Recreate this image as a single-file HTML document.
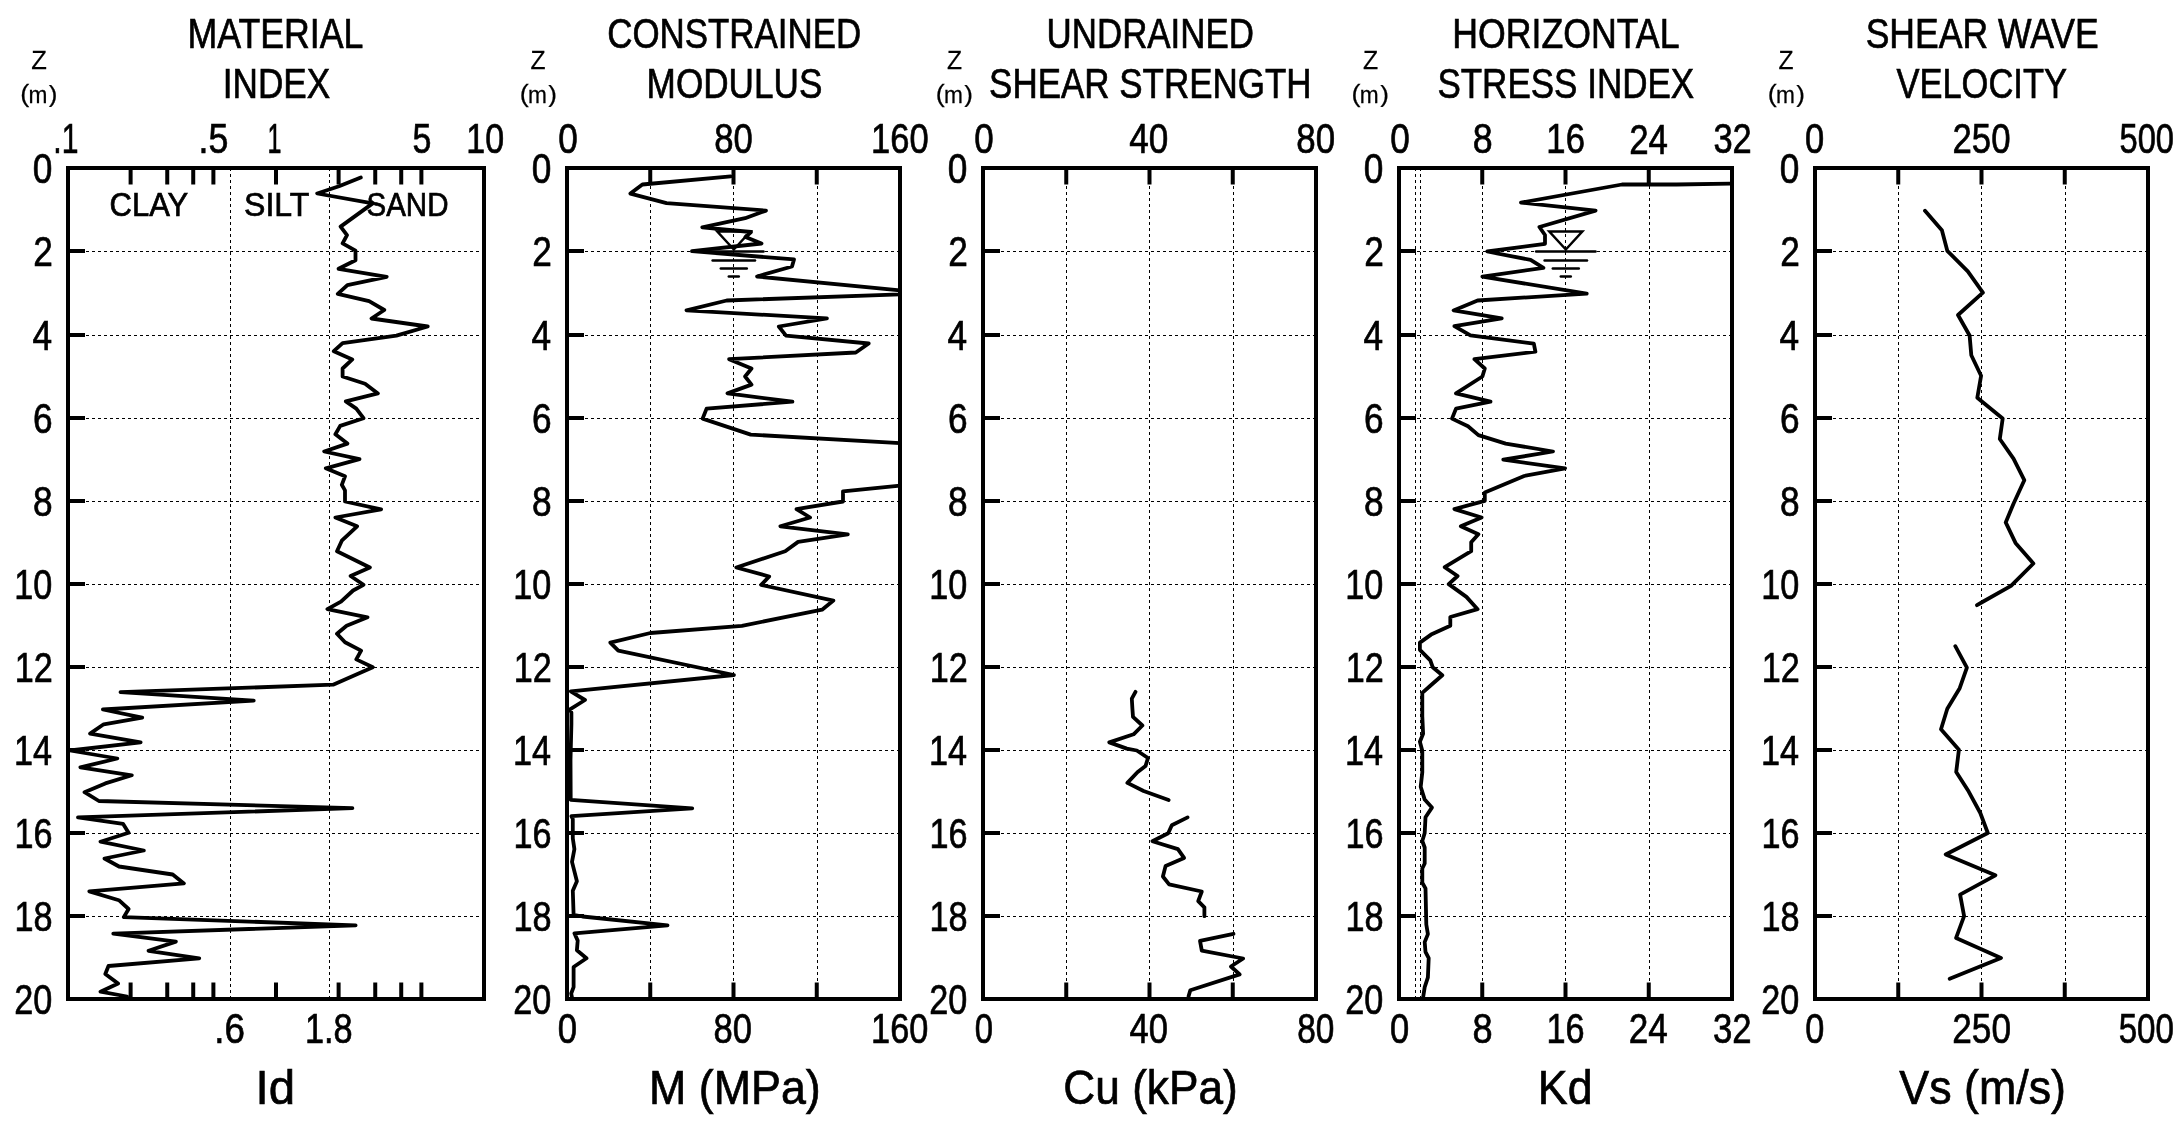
<!DOCTYPE html>
<html><head><meta charset="utf-8"><title>DMT profiles</title>
<style>
html,body{margin:0;padding:0;background:#fff;}
svg{display:block;will-change:transform;}
text{font-family:"Liberation Sans",Arial,sans-serif;fill:#000;stroke:#000;stroke-width:0.7px;}
</style></head><body>
<svg width="2178" height="1122" viewBox="0 0 2178 1122">
<rect width="2178" height="1122" fill="#fff"/>
<path d="M68.00 251.50L482.00 251.50 M68.00 335.50L482.00 335.50 M68.00 418.50L482.00 418.50 M68.00 501.50L482.00 501.50 M68.00 584.50L482.00 584.50 M68.00 667.50L482.00 667.50 M68.00 750.50L482.00 750.50 M68.00 833.50L482.00 833.50 M68.00 916.50L482.00 916.50 M230.50 168.00L230.50 997.00 M329.50 168.00L329.50 997.00 M567.00 251.50L898.00 251.50 M567.00 335.50L898.00 335.50 M567.00 418.50L898.00 418.50 M567.00 501.50L898.00 501.50 M567.00 584.50L898.00 584.50 M567.00 667.50L898.00 667.50 M567.00 750.50L898.00 750.50 M567.00 833.50L898.00 833.50 M567.00 916.50L898.00 916.50 M650.50 168.00L650.50 997.00 M733.50 168.00L733.50 997.00 M817.50 168.00L817.50 997.00 M983.00 251.50L1314.00 251.50 M983.00 335.50L1314.00 335.50 M983.00 418.50L1314.00 418.50 M983.00 501.50L1314.00 501.50 M983.00 584.50L1314.00 584.50 M983.00 667.50L1314.00 667.50 M983.00 750.50L1314.00 750.50 M983.00 833.50L1314.00 833.50 M983.00 916.50L1314.00 916.50 M1066.50 168.00L1066.50 997.00 M1149.50 168.00L1149.50 997.00 M1233.50 168.00L1233.50 997.00 M1399.00 251.50L1730.00 251.50 M1399.00 335.50L1730.00 335.50 M1399.00 418.50L1730.00 418.50 M1399.00 501.50L1730.00 501.50 M1399.00 584.50L1730.00 584.50 M1399.00 667.50L1730.00 667.50 M1399.00 750.50L1730.00 750.50 M1399.00 833.50L1730.00 833.50 M1399.00 916.50L1730.00 916.50 M1482.50 168.00L1482.50 997.00 M1565.50 168.00L1565.50 997.00 M1649.50 168.00L1649.50 997.00 M1415.50 168.00L1415.50 997.00 M1420.50 168.00L1420.50 997.00 M1815.00 251.50L2146.00 251.50 M1815.00 335.50L2146.00 335.50 M1815.00 418.50L2146.00 418.50 M1815.00 501.50L2146.00 501.50 M1815.00 584.50L2146.00 584.50 M1815.00 667.50L2146.00 667.50 M1815.00 750.50L2146.00 750.50 M1815.00 833.50L2146.00 833.50 M1815.00 916.50L2146.00 916.50 M1898.50 168.00L1898.50 997.00 M1981.50 168.00L1981.50 997.00 M2065.50 168.00L2065.50 997.00" stroke="#000" stroke-width="1" stroke-dasharray="3 3" fill="none"/>
<g stroke="#000" fill="none" stroke-width="4"><rect x="68" y="168.0" width="416" height="831.0"/><rect x="567" y="168.0" width="333" height="831.0"/><rect x="983" y="168.0" width="333" height="831.0"/><rect x="1399" y="168.0" width="333" height="831.0"/><rect x="1815" y="168.0" width="333" height="831.0"/></g>
<g stroke="#000" stroke-linecap="butt"><line x1="130.61" y1="168.00" x2="130.61" y2="184.50" stroke-width="4"/><line x1="130.61" y1="982.50" x2="130.61" y2="999.00" stroke-width="4"/><line x1="167.24" y1="168.00" x2="167.24" y2="184.50" stroke-width="4"/><line x1="167.24" y1="982.50" x2="167.24" y2="999.00" stroke-width="4"/><line x1="193.23" y1="168.00" x2="193.23" y2="184.50" stroke-width="4"/><line x1="193.23" y1="982.50" x2="193.23" y2="999.00" stroke-width="4"/><line x1="213.39" y1="168.00" x2="213.39" y2="184.50" stroke-width="4"/><line x1="213.39" y1="982.50" x2="213.39" y2="999.00" stroke-width="4"/><line x1="276.00" y1="168.00" x2="276.00" y2="184.50" stroke-width="4"/><line x1="276.00" y1="982.50" x2="276.00" y2="999.00" stroke-width="4"/><line x1="338.61" y1="168.00" x2="338.61" y2="184.50" stroke-width="4"/><line x1="338.61" y1="982.50" x2="338.61" y2="999.00" stroke-width="4"/><line x1="375.24" y1="168.00" x2="375.24" y2="184.50" stroke-width="4"/><line x1="375.24" y1="982.50" x2="375.24" y2="999.00" stroke-width="4"/><line x1="401.23" y1="168.00" x2="401.23" y2="184.50" stroke-width="4"/><line x1="401.23" y1="982.50" x2="401.23" y2="999.00" stroke-width="4"/><line x1="421.39" y1="168.00" x2="421.39" y2="184.50" stroke-width="4"/><line x1="421.39" y1="982.50" x2="421.39" y2="999.00" stroke-width="4"/><line x1="68.00" y1="251.00" x2="85.00" y2="251.00" stroke-width="4"/><line x1="68.00" y1="335.00" x2="85.00" y2="335.00" stroke-width="4"/><line x1="68.00" y1="418.00" x2="85.00" y2="418.00" stroke-width="4"/><line x1="68.00" y1="501.00" x2="85.00" y2="501.00" stroke-width="4"/><line x1="68.00" y1="584.00" x2="85.00" y2="584.00" stroke-width="4"/><line x1="68.00" y1="667.00" x2="85.00" y2="667.00" stroke-width="4"/><line x1="68.00" y1="750.00" x2="85.00" y2="750.00" stroke-width="4"/><line x1="68.00" y1="833.00" x2="85.00" y2="833.00" stroke-width="4"/><line x1="68.00" y1="916.00" x2="85.00" y2="916.00" stroke-width="4"/><line x1="650.25" y1="168.00" x2="650.25" y2="184.50" stroke-width="4"/><line x1="650.25" y1="982.50" x2="650.25" y2="999.00" stroke-width="4"/><line x1="733.50" y1="168.00" x2="733.50" y2="184.50" stroke-width="4"/><line x1="733.50" y1="982.50" x2="733.50" y2="999.00" stroke-width="4"/><line x1="816.75" y1="168.00" x2="816.75" y2="184.50" stroke-width="4"/><line x1="816.75" y1="982.50" x2="816.75" y2="999.00" stroke-width="4"/><line x1="567.00" y1="251.00" x2="584.00" y2="251.00" stroke-width="4"/><line x1="567.00" y1="335.00" x2="584.00" y2="335.00" stroke-width="4"/><line x1="567.00" y1="418.00" x2="584.00" y2="418.00" stroke-width="4"/><line x1="567.00" y1="501.00" x2="584.00" y2="501.00" stroke-width="4"/><line x1="567.00" y1="584.00" x2="584.00" y2="584.00" stroke-width="4"/><line x1="567.00" y1="667.00" x2="584.00" y2="667.00" stroke-width="4"/><line x1="567.00" y1="750.00" x2="584.00" y2="750.00" stroke-width="4"/><line x1="567.00" y1="833.00" x2="584.00" y2="833.00" stroke-width="4"/><line x1="567.00" y1="916.00" x2="584.00" y2="916.00" stroke-width="4"/><line x1="1066.25" y1="168.00" x2="1066.25" y2="184.50" stroke-width="4"/><line x1="1066.25" y1="982.50" x2="1066.25" y2="999.00" stroke-width="4"/><line x1="1149.50" y1="168.00" x2="1149.50" y2="184.50" stroke-width="4"/><line x1="1149.50" y1="982.50" x2="1149.50" y2="999.00" stroke-width="4"/><line x1="1232.75" y1="168.00" x2="1232.75" y2="184.50" stroke-width="4"/><line x1="1232.75" y1="982.50" x2="1232.75" y2="999.00" stroke-width="4"/><line x1="983.00" y1="251.00" x2="1000.00" y2="251.00" stroke-width="4"/><line x1="983.00" y1="335.00" x2="1000.00" y2="335.00" stroke-width="4"/><line x1="983.00" y1="418.00" x2="1000.00" y2="418.00" stroke-width="4"/><line x1="983.00" y1="501.00" x2="1000.00" y2="501.00" stroke-width="4"/><line x1="983.00" y1="584.00" x2="1000.00" y2="584.00" stroke-width="4"/><line x1="983.00" y1="667.00" x2="1000.00" y2="667.00" stroke-width="4"/><line x1="983.00" y1="750.00" x2="1000.00" y2="750.00" stroke-width="4"/><line x1="983.00" y1="833.00" x2="1000.00" y2="833.00" stroke-width="4"/><line x1="983.00" y1="916.00" x2="1000.00" y2="916.00" stroke-width="4"/><line x1="1482.25" y1="168.00" x2="1482.25" y2="184.50" stroke-width="4"/><line x1="1482.25" y1="982.50" x2="1482.25" y2="999.00" stroke-width="4"/><line x1="1565.50" y1="168.00" x2="1565.50" y2="184.50" stroke-width="4"/><line x1="1565.50" y1="982.50" x2="1565.50" y2="999.00" stroke-width="4"/><line x1="1648.75" y1="168.00" x2="1648.75" y2="184.50" stroke-width="4"/><line x1="1648.75" y1="982.50" x2="1648.75" y2="999.00" stroke-width="4"/><line x1="1399.00" y1="251.00" x2="1416.00" y2="251.00" stroke-width="4"/><line x1="1399.00" y1="335.00" x2="1416.00" y2="335.00" stroke-width="4"/><line x1="1399.00" y1="418.00" x2="1416.00" y2="418.00" stroke-width="4"/><line x1="1399.00" y1="501.00" x2="1416.00" y2="501.00" stroke-width="4"/><line x1="1399.00" y1="584.00" x2="1416.00" y2="584.00" stroke-width="4"/><line x1="1399.00" y1="667.00" x2="1416.00" y2="667.00" stroke-width="4"/><line x1="1399.00" y1="750.00" x2="1416.00" y2="750.00" stroke-width="4"/><line x1="1399.00" y1="833.00" x2="1416.00" y2="833.00" stroke-width="4"/><line x1="1399.00" y1="916.00" x2="1416.00" y2="916.00" stroke-width="4"/><line x1="1898.25" y1="168.00" x2="1898.25" y2="184.50" stroke-width="4"/><line x1="1898.25" y1="982.50" x2="1898.25" y2="999.00" stroke-width="4"/><line x1="1981.50" y1="168.00" x2="1981.50" y2="184.50" stroke-width="4"/><line x1="1981.50" y1="982.50" x2="1981.50" y2="999.00" stroke-width="4"/><line x1="2064.75" y1="168.00" x2="2064.75" y2="184.50" stroke-width="4"/><line x1="2064.75" y1="982.50" x2="2064.75" y2="999.00" stroke-width="4"/><line x1="1815.00" y1="251.00" x2="1832.00" y2="251.00" stroke-width="4"/><line x1="1815.00" y1="335.00" x2="1832.00" y2="335.00" stroke-width="4"/><line x1="1815.00" y1="418.00" x2="1832.00" y2="418.00" stroke-width="4"/><line x1="1815.00" y1="501.00" x2="1832.00" y2="501.00" stroke-width="4"/><line x1="1815.00" y1="584.00" x2="1832.00" y2="584.00" stroke-width="4"/><line x1="1815.00" y1="667.00" x2="1832.00" y2="667.00" stroke-width="4"/><line x1="1815.00" y1="750.00" x2="1832.00" y2="750.00" stroke-width="4"/><line x1="1815.00" y1="833.00" x2="1832.00" y2="833.00" stroke-width="4"/><line x1="1815.00" y1="916.00" x2="1832.00" y2="916.00" stroke-width="4"/></g>
<g stroke="#000" stroke-width="3.8" fill="none" stroke-linejoin="round" stroke-linecap="round"><polyline points="360.8,177.5 339.0,186.3 317.2,193.5 372.7,203.4 340.6,226.6 347.0,235.2 342.6,243.4 355.5,250.6 355.5,260.2 338.6,268.8 386.7,276.8 347.4,285.1 337.8,293.9 369.1,301.2 384.3,310.0 371.5,318.5 427.7,326.5 396.4,335.6 342.6,343.2 333.8,351.2 352.3,359.4 342.6,368.5 342.6,376.5 365.1,383.7 377.9,393.4 345.8,401.4 356.3,408.6 363.5,418.2 340.2,425.9 335.4,434.3 347.4,443.6 324.2,451.5 359.5,459.2 325.8,468.3 345.0,476.3 341.8,484.8 345.0,490.4 345.0,501.5 381.1,509.4 335.4,517.5 357.1,526.3 341.8,540.7 337.0,551.2 369.9,567.5 350.6,576.0 363.5,584.8 353.1,590.5 341.0,601.7 327.4,609.2 367.5,617.3 346.6,625.8 337.0,633.8 345.0,642.3 361.1,650.6 356.3,659.4 372.8,667.3 333.1,684.7 120.5,692.2 253.7,700.7 102.9,709.5 142.2,717.6 103.7,724.3 90.1,733.6 140.6,742.4 70.0,750.5 117.3,758.5 80.4,767.3 131.8,775.3 105.3,783.4 84.5,792.2 98.9,801.0 352.4,808.2 78.0,817.4 123.0,823.8 128.6,832.8 100.5,841.7 143.8,850.5 104.5,858.5 119.0,866.5 172.7,874.5 183.9,883.4 89.3,891.4 118.9,900.2 128.6,909.0 123.8,917.1 355.6,925.4 113.3,933.6 175.9,941.6 148.6,950.8 199.2,958.3 108.5,966.0 105.3,974.0 118.1,983.6 100.5,991.7 127.0,996.5"/><polyline points="730.7,176.4 642.4,184.5 630.4,193.6 666.5,203.2 766.0,210.6 745.1,218.2 702.3,227.4 751.0,232.0 745.5,237.0 761.5,243.5 692.0,251.2 794.0,259.4 792.0,266.5 757.1,276.5 900.0,290.4 900.0,294.4 726.7,300.5 686.5,310.4 826.9,318.4 778.8,326.5 786.0,335.7 868.7,343.5 855.8,352.5 729.1,359.2 751.5,368.5 745.1,376.5 751.5,384.6 727.5,393.4 792.4,401.7 706.6,408.6 702.6,418.6 750.7,434.6 900.0,443.1 900.0,485.6 843.0,491.3 843.0,501.5 796.5,509.1 810.1,517.5 780.4,526.3 847.8,534.3 798.1,541.9 785.2,551.2 736.3,567.5 769.2,576.5 761.2,584.9 833.4,600.6 822.1,609.7 741.9,625.8 650.4,633.0 610.3,642.6 618.3,650.6 733.9,675.0 570.8,691.4 585.0,700.0 570.0,709.3 571.4,712.8 571.4,724.2 570.5,760.0 570.7,799.8 692.2,808.4 571.4,816.2 572.8,819.0 572.8,838.3 574.4,849.1 572.0,861.9 576.9,881.2 572.8,890.8 573.6,914.9 582.5,916.5 667.5,925.3 574.4,933.3 577.7,940.6 576.9,950.2 586.5,958.2 573.6,967.0 573.6,987.1 571.2,993.5 572.0,997.5"/><polyline points="1135.5,691.8 1131.8,698.7 1132.4,708.7 1133.0,716.8 1142.4,725.5 1133.6,734.3 1109.3,742.4 1126.8,748.6 1136.8,750.5 1148.0,758.0 1145.5,766.1 1137.4,772.3 1127.4,782.9 1143.6,791.0 1168.6,800.0"/><polyline points="1187.6,817.4 1171.8,825.3 1168.2,833.2 1152.4,841.2 1177.9,849.1 1184.1,857.9 1165.6,865.9 1162.9,876.5 1169.1,884.4 1201.8,891.5 1198.2,901.2 1204.4,907.3 1204.4,916.2"/><polyline points="1233.5,933.8 1200.0,940.9 1201.8,950.6 1243.2,958.5 1230.9,966.5 1239.7,974.4 1190.3,990.3 1188.5,996.5"/><polyline points="1730.4,183.6 1676.6,184.5 1622.0,184.5 1521.0,202.6 1595.6,210.6 1539.4,227.0 1545.0,235.0 1545.0,243.8 1487.3,251.5 1530.6,259.9 1543.4,267.9 1482.4,276.7 1586.7,293.6 1477.6,300.5 1453.6,310.4 1501.7,318.4 1454.4,326.1 1470.4,335.4 1533.8,343.6 1535.4,351.7 1474.4,359.2 1484.8,368.5 1482.4,376.5 1456.0,393.4 1490.5,401.7 1456.0,408.6 1452.0,418.6 1468.0,426.3 1478.4,435.1 1505.7,443.6 1553.0,451.5 1503.3,459.7 1565.1,468.3 1524.2,476.0 1484.8,492.4 1484.8,500.8 1454.4,509.1 1481.6,517.5 1460.8,526.3 1478.4,534.3 1471.2,542.3 1471.2,551.2 1444.7,567.2 1457.6,576.0 1448.7,584.1 1466.4,596.9 1477.6,609.2 1450.3,617.0 1450.3,625.8 1431.1,634.6 1419.9,642.6 1419.9,649.8 1430.3,660.3 1432.7,667.2 1442.3,675.2 1430.3,685.7 1422.3,692.9 1422.3,716.2 1423.1,733.8 1419.9,741.8 1422.3,750.7 1422.3,772.3 1420.7,786.8 1424.7,799.6 1431.9,807.6 1425.5,817.3 1424.7,833.0 1422.3,841.0 1424.7,847.5 1424.7,863.5 1422.3,868.3 1422.3,882.8 1425.5,888.4 1426.3,924.5 1427.9,934.1 1424.7,942.1 1425.5,951.8 1428.7,958.2 1427.9,977.4 1424.7,987.1 1423.1,997.5"/><polyline points="1925.0,210.7 1941.9,230.3 1947.3,250.8 1967.8,271.3 1982.9,292.7 1958.0,315.0 1969.6,335.5 1971.3,355.2 1981.1,375.7 1977.3,397.8 2002.7,418.4 1999.8,439.0 2013.5,458.6 2024.3,480.2 2013.5,503.7 2005.7,522.4 2015.5,542.9 2033.4,563.5 2011.0,585.8 1982.4,602.0 1977.0,605.2"/><polyline points="1955.3,646.2 1966.9,667.6 1959.7,688.2 1947.3,708.7 1941.0,729.2 1958.9,749.7 1956.2,772.0 1968.7,791.6 1980.3,813.0 1987.8,833.0 1945.7,854.5 1995.4,875.3 1960.1,894.6 1964.1,916.2 1956.1,937.9 2001.0,957.9 1949.7,978.8"/></g>
<g stroke="#000" stroke-width="2.5" fill="none" stroke-linecap="round"><path d="M717.3 231.5H750.3L733.8 249.5Z" fill="none"/><line x1="704.1" y1="251.5" x2="763.5" y2="251.5"/><line x1="712.6" y1="260.4" x2="755.0" y2="260.4"/><line x1="720.8" y1="268.4" x2="746.8" y2="268.4"/><line x1="728.8" y1="276.4" x2="738.8" y2="276.4"/><path d="M1549.3 231.5H1582.3L1565.8 249.5Z" fill="none"/><line x1="1536.1" y1="251.5" x2="1595.5" y2="251.5"/><line x1="1544.6" y1="260.4" x2="1587.0" y2="260.4"/><line x1="1552.8" y1="268.4" x2="1578.8" y2="268.4"/><line x1="1560.8" y1="276.4" x2="1570.8" y2="276.4"/></g>
<text transform="translate(187.57 48.47) scale(0.8401 1)" font-size="42.5">MATERIAL</text>
<text transform="translate(222.77 97.62) scale(0.8267 1)" font-size="42.5">INDEX</text>
<text transform="translate(607.22 48.47) scale(0.8213 1)" font-size="42.5">CONSTRAINED</text>
<text transform="translate(646.62 97.62) scale(0.8271 1)" font-size="42.5">MODULUS</text>
<text transform="translate(1046.61 48.26) scale(0.8207 1)" font-size="42.5">UNDRAINED</text>
<text transform="translate(989.09 97.62) scale(0.8231 1)" font-size="42.5">SHEAR STRENGTH</text>
<text transform="translate(1452.27 48.47) scale(0.8396 1)" font-size="42.5">HORIZONTAL</text>
<text transform="translate(1437.39 97.62) scale(0.8239 1)" font-size="42.5">STRESS INDEX</text>
<text transform="translate(1865.66 48.47) scale(0.8363 1)" font-size="42.5">SHEAR WAVE</text>
<text transform="translate(1896.43 97.62) scale(0.8117 1)" font-size="42.5">VELOCITY</text>
<text transform="translate(31.18 68.75) scale(1.0219 1)" font-size="25.0" style="stroke-width:0.25px">Z</text>
<text transform="translate(20.24 102.44) scale(1.1401 1)" font-size="23.5" style="stroke-width:0.25px">(</text>
<text transform="translate(28.50 102.67) scale(0.9652 1)" font-size="23.5" style="stroke-width:0.25px">m</text>
<text transform="translate(48.84 102.44) scale(1.1080 1)" font-size="23.5" style="stroke-width:0.25px">)</text>
<text transform="translate(530.51 68.75) scale(0.9854 1)" font-size="25.0" style="stroke-width:0.25px">Z</text>
<text transform="translate(519.64 102.44) scale(1.1401 1)" font-size="23.5" style="stroke-width:0.25px">(</text>
<text transform="translate(527.90 102.67) scale(0.9652 1)" font-size="23.5" style="stroke-width:0.25px">m</text>
<text transform="translate(548.24 102.44) scale(1.1080 1)" font-size="23.5" style="stroke-width:0.25px">)</text>
<text transform="translate(947.11 68.75) scale(0.9854 1)" font-size="25.0" style="stroke-width:0.25px">Z</text>
<text transform="translate(935.64 102.44) scale(1.1401 1)" font-size="23.5" style="stroke-width:0.25px">(</text>
<text transform="translate(943.90 102.67) scale(0.9652 1)" font-size="23.5" style="stroke-width:0.25px">m</text>
<text transform="translate(964.24 102.44) scale(1.1080 1)" font-size="23.5" style="stroke-width:0.25px">)</text>
<text transform="translate(1363.01 68.75) scale(0.9927 1)" font-size="25.0" style="stroke-width:0.25px">Z</text>
<text transform="translate(1351.54 102.44) scale(1.1401 1)" font-size="23.5" style="stroke-width:0.25px">(</text>
<text transform="translate(1359.80 102.67) scale(0.9652 1)" font-size="23.5" style="stroke-width:0.25px">m</text>
<text transform="translate(1380.14 102.44) scale(1.1080 1)" font-size="23.5" style="stroke-width:0.25px">)</text>
<text transform="translate(1778.61 68.75) scale(0.9854 1)" font-size="25.0" style="stroke-width:0.25px">Z</text>
<text transform="translate(1767.74 102.44) scale(1.1401 1)" font-size="23.5" style="stroke-width:0.25px">(</text>
<text transform="translate(1776.00 102.67) scale(0.9652 1)" font-size="23.5" style="stroke-width:0.25px">m</text>
<text transform="translate(1796.34 102.44) scale(1.1080 1)" font-size="23.5" style="stroke-width:0.25px">)</text>
<text transform="translate(53.36 153.45) scale(0.7170 1)" font-size="42.0">.1</text>
<text transform="translate(198.54 153.24) scale(0.8525 1)" font-size="42.0">.5</text>
<text transform="translate(267.40 153.45) scale(0.5966 1)" font-size="42.0">1</text>
<text transform="translate(412.54 153.24) scale(0.8087 1)" font-size="42.0">5</text>
<text transform="translate(466.32 153.45) scale(0.8096 1)" font-size="42.0">10</text>
<text transform="translate(558.23 153.45) scale(0.8368 1)" font-size="42.0">0</text>
<text transform="translate(714.31 153.45) scale(0.8252 1)" font-size="42.0">80</text>
<text transform="translate(871.08 153.45) scale(0.8218 1)" font-size="42.0">160</text>
<text transform="translate(974.24 153.45) scale(0.8318 1)" font-size="42.0">0</text>
<text transform="translate(1129.19 153.45) scale(0.8367 1)" font-size="42.0">40</text>
<text transform="translate(1296.30 153.45) scale(0.8299 1)" font-size="42.0">80</text>
<text transform="translate(1390.13 153.45) scale(0.8368 1)" font-size="42.0">0</text>
<text transform="translate(1472.76 153.45) scale(0.8511 1)" font-size="42.0">8</text>
<text transform="translate(1546.36 153.45) scale(0.8257 1)" font-size="42.0">16</text>
<text transform="translate(1629.16 153.66) scale(0.8298 1)" font-size="42.0">24</text>
<text transform="translate(1713.39 153.45) scale(0.8208 1)" font-size="42.0">32</text>
<text transform="translate(1804.95 153.45) scale(0.8219 1)" font-size="42.0">0</text>
<text transform="translate(1952.46 153.45) scale(0.8278 1)" font-size="42.0">250</text>
<text transform="translate(2119.49 153.45) scale(0.7777 1)" font-size="42.0">500</text>
<text transform="translate(214.25 1042.60) scale(0.8754 1)" font-size="42.0">.6</text>
<text transform="translate(304.99 1042.60) scale(0.8168 1)" font-size="42.0">1.8</text>
<text transform="translate(557.85 1042.60) scale(0.8269 1)" font-size="42.0">0</text>
<text transform="translate(713.61 1042.60) scale(0.8229 1)" font-size="42.0">80</text>
<text transform="translate(871.09 1042.60) scale(0.8172 1)" font-size="42.0">160</text>
<text transform="translate(974.72 1042.60) scale(0.7820 1)" font-size="42.0">0</text>
<text transform="translate(1129.50 1042.60) scale(0.8231 1)" font-size="42.0">40</text>
<text transform="translate(1297.16 1042.60) scale(0.7952 1)" font-size="42.0">80</text>
<text transform="translate(1389.95 1042.60) scale(0.8219 1)" font-size="42.0">0</text>
<text transform="translate(1472.44 1042.60) scale(0.8612 1)" font-size="42.0">8</text>
<text transform="translate(1546.40 1042.60) scale(0.8161 1)" font-size="42.0">16</text>
<text transform="translate(1628.74 1042.81) scale(0.8367 1)" font-size="42.0">24</text>
<text transform="translate(1712.98 1042.60) scale(0.8278 1)" font-size="42.0">32</text>
<text transform="translate(1805.26 1042.60) scale(0.8169 1)" font-size="42.0">0</text>
<text transform="translate(1952.24 1042.60) scale(0.8399 1)" font-size="42.0">250</text>
<text transform="translate(2118.67 1042.60) scale(0.7897 1)" font-size="42.0">500</text>
<text transform="translate(255.54 1104.27) scale(0.9662 1)" font-size="49.0">Id</text>
<text transform="translate(649.03 1104.44) scale(0.9145 1)" font-size="49.0">M (MPa)</text>
<text transform="translate(1063.35 1103.84) scale(0.9022 1)" font-size="49.0">Cu (kPa)</text>
<text transform="translate(1537.83 1104.27) scale(0.9133 1)" font-size="49.0">Kd</text>
<text transform="translate(1899.28 1104.44) scale(0.9140 1)" font-size="49.0">Vs (m/s)</text>
<text transform="translate(109.62 215.56) scale(0.9224 1)" font-size="33.6">CLAY</text>
<text transform="translate(244.03 215.56) scale(0.9538 1)" font-size="33.6">SILT</text>
<text transform="translate(366.44 215.56) scale(0.8793 1)" font-size="33.6">SAND</text>
<text transform="translate(32.76 182.85) scale(0.8400 1)" font-size="42.0">0</text>
<text transform="translate(33.15 266.06) scale(0.8400 1)" font-size="42.0">2</text>
<text transform="translate(32.41 349.85) scale(0.8400 1)" font-size="42.0">4</text>
<text transform="translate(32.94 432.85) scale(0.8400 1)" font-size="42.0">6</text>
<text transform="translate(32.90 515.85) scale(0.8400 1)" font-size="42.0">8</text>
<text transform="translate(14.27 598.85) scale(0.8150 1)" font-size="42.0">10</text>
<text transform="translate(14.65 682.06) scale(0.8150 1)" font-size="42.0">12</text>
<text transform="translate(13.93 764.85) scale(0.8150 1)" font-size="42.0">14</text>
<text transform="translate(14.44 847.85) scale(0.8150 1)" font-size="42.0">16</text>
<text transform="translate(14.41 930.85) scale(0.8150 1)" font-size="42.0">18</text>
<text transform="translate(14.27 1013.85) scale(0.8150 1)" font-size="42.0">20</text>
<text transform="translate(531.76 182.85) scale(0.8400 1)" font-size="42.0">0</text>
<text transform="translate(532.15 266.06) scale(0.8400 1)" font-size="42.0">2</text>
<text transform="translate(531.41 349.85) scale(0.8400 1)" font-size="42.0">4</text>
<text transform="translate(531.94 432.85) scale(0.8400 1)" font-size="42.0">6</text>
<text transform="translate(531.90 515.85) scale(0.8400 1)" font-size="42.0">8</text>
<text transform="translate(513.27 598.85) scale(0.8150 1)" font-size="42.0">10</text>
<text transform="translate(513.65 682.06) scale(0.8150 1)" font-size="42.0">12</text>
<text transform="translate(512.93 764.85) scale(0.8150 1)" font-size="42.0">14</text>
<text transform="translate(513.44 847.85) scale(0.8150 1)" font-size="42.0">16</text>
<text transform="translate(513.41 930.85) scale(0.8150 1)" font-size="42.0">18</text>
<text transform="translate(513.27 1013.85) scale(0.8150 1)" font-size="42.0">20</text>
<text transform="translate(947.76 182.85) scale(0.8400 1)" font-size="42.0">0</text>
<text transform="translate(948.15 266.06) scale(0.8400 1)" font-size="42.0">2</text>
<text transform="translate(947.41 349.85) scale(0.8400 1)" font-size="42.0">4</text>
<text transform="translate(947.94 432.85) scale(0.8400 1)" font-size="42.0">6</text>
<text transform="translate(947.90 515.85) scale(0.8400 1)" font-size="42.0">8</text>
<text transform="translate(929.27 598.85) scale(0.8150 1)" font-size="42.0">10</text>
<text transform="translate(929.65 682.06) scale(0.8150 1)" font-size="42.0">12</text>
<text transform="translate(928.93 764.85) scale(0.8150 1)" font-size="42.0">14</text>
<text transform="translate(929.44 847.85) scale(0.8150 1)" font-size="42.0">16</text>
<text transform="translate(929.41 930.85) scale(0.8150 1)" font-size="42.0">18</text>
<text transform="translate(929.27 1013.85) scale(0.8150 1)" font-size="42.0">20</text>
<text transform="translate(1363.76 182.85) scale(0.8400 1)" font-size="42.0">0</text>
<text transform="translate(1364.15 266.06) scale(0.8400 1)" font-size="42.0">2</text>
<text transform="translate(1363.41 349.85) scale(0.8400 1)" font-size="42.0">4</text>
<text transform="translate(1363.94 432.85) scale(0.8400 1)" font-size="42.0">6</text>
<text transform="translate(1363.90 515.85) scale(0.8400 1)" font-size="42.0">8</text>
<text transform="translate(1345.27 598.85) scale(0.8150 1)" font-size="42.0">10</text>
<text transform="translate(1345.65 682.06) scale(0.8150 1)" font-size="42.0">12</text>
<text transform="translate(1344.93 764.85) scale(0.8150 1)" font-size="42.0">14</text>
<text transform="translate(1345.44 847.85) scale(0.8150 1)" font-size="42.0">16</text>
<text transform="translate(1345.41 930.85) scale(0.8150 1)" font-size="42.0">18</text>
<text transform="translate(1345.27 1013.85) scale(0.8150 1)" font-size="42.0">20</text>
<text transform="translate(1779.76 182.85) scale(0.8400 1)" font-size="42.0">0</text>
<text transform="translate(1780.15 266.06) scale(0.8400 1)" font-size="42.0">2</text>
<text transform="translate(1779.41 349.85) scale(0.8400 1)" font-size="42.0">4</text>
<text transform="translate(1779.94 432.85) scale(0.8400 1)" font-size="42.0">6</text>
<text transform="translate(1779.90 515.85) scale(0.8400 1)" font-size="42.0">8</text>
<text transform="translate(1761.27 598.85) scale(0.8150 1)" font-size="42.0">10</text>
<text transform="translate(1761.65 682.06) scale(0.8150 1)" font-size="42.0">12</text>
<text transform="translate(1760.93 764.85) scale(0.8150 1)" font-size="42.0">14</text>
<text transform="translate(1761.44 847.85) scale(0.8150 1)" font-size="42.0">16</text>
<text transform="translate(1761.41 930.85) scale(0.8150 1)" font-size="42.0">18</text>
<text transform="translate(1761.27 1013.85) scale(0.8150 1)" font-size="42.0">20</text>
</svg>
</body></html>
